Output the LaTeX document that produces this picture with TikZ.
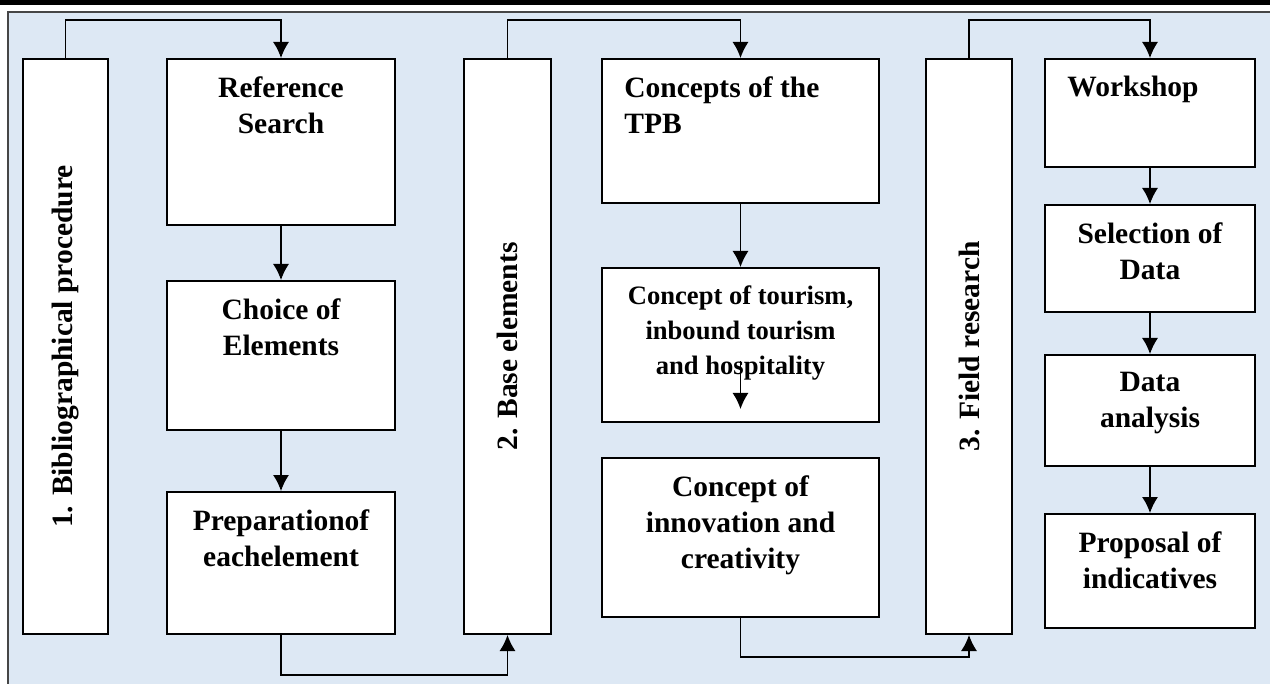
\documentclass[tikz,border=0pt]{standalone}
\usepackage{fontspec}
\setmainfont{Liberation Serif}
\usetikzlibrary{arrows.meta}
\definecolor{bgblue}{RGB}{221,232,244}
\definecolor{rimgray}{RGB}{70,70,70}

\begin{document}
\begin{tikzpicture}[x=0.5pt, y=-0.5pt, font=\bfseries\fontsize{14.75}{18}\selectfont,
    box/.style={draw, fill=white, line width=1pt, inner sep=0pt, anchor=north west},
    txt/.style={align=center, inner sep=0pt},
    hd/.style={label={[txt, anchor=north, yshift=-9pt]north:{#1}}},
    hdl/.style={label={[txt, align=left, anchor=north west, xshift=11.5pt, yshift=-9pt]north west:{#1}}},
    arr/.style={-{Latex[length=8pt,width=8pt]}, line width=0.7pt}]
        \useasboundingbox (0,0) rectangle (1270,684);
        \fill[black] (0,0) rectangle (1270,5);
        \fill[bgblue] (8,12) rectangle (1270,684);
        \draw[rimgray, line width=1.2pt] (8,684) -- (8,12) -- (1270,12);

        % 1. bibliographical procedure
        \node[box, minimum width=42.5pt, minimum height=287.5pt] (bib) at (22,58) {\rotatebox{90}{1. Bibliographical procedure}};
        \node[box, minimum width=114pt, minimum height=83pt, hd={Reference\\Search}] (ref) at (166,58) {};
        \node[box, minimum width=114pt, minimum height=74.5pt, hd={Choice of\\Elements}] (choice) at (166,280) {};
        \node[box, minimum width=114pt, minimum height=71pt, hd={Preparationof\\eachelement}] (prep) at (166,491) {};

        % 2. base elements
        \node[box, minimum width=43.5pt, minimum height=287.5pt] (base) at (463,58) {\rotatebox{90}{2. Base elements}};
        \node[box, minimum width=138.5pt, minimum height=72pt, hdl={Concepts of the\\TPB}] (tpb) at (601,58) {};
        \node[box, minimum width=138.5pt, minimum height=77pt,
              label={[txt, anchor=north, yshift=-9pt, font=\bfseries\fontsize{13.3}{17.5}\selectfont]north:{Concept of tourism,\\inbound tourism\\and hospitality}}] (tour) at (601,267) {};
        \node[box, minimum width=138.5pt, minimum height=79.5pt, hd={Concept of\\innovation and\\creativity}] (innov) at (601,457) {};

        % 3. field research
        \node[box, minimum width=43pt, minimum height=287.5pt] (field) at (925,58) {\rotatebox{90}{3. Field research}};
        \node[box, minimum width=105pt, minimum height=54pt, hdl={Workshop}] (work) at (1044,58) {};
        \node[box, minimum width=105pt, minimum height=53.5pt, hd={Selection of\\Data}] (sel) at (1044,204) {};
        \node[box, minimum width=105pt, minimum height=55.5pt, hd={Data\\analysis}] (ana) at (1044,354) {};
        \node[box, minimum width=105pt, minimum height=57pt, hd={Proposal of\\indicatives}] (prop) at (1044,513) {};

        \draw[arr] (bib.north) -- ++(0,-38) -| (ref.north);
        \draw[arr] (ref) -- (choice);
        \draw[arr] (choice) -- (prep);
        \draw[arr] (prep.south) -- ++(0,40) -| (base.south);
        \draw[arr] (base.north) -- ++(0,-38) -| (tpb.north);
        \draw[arr] (tpb) -- (tour);
        \draw[arr] ([yshift=-8pt]tour.center) -- ([yshift=7pt]tour.south);
        \draw[arr] (innov.south) -- ++(0,39) -| (field.south);
        \draw[arr] (field.north) -- ++(0,-38) -| (work.north);
        \draw[arr] (work) -- (sel);
        \draw[arr] (sel) -- (ana);
        \draw[arr] (ana) -- (prop);
      \end{tikzpicture}
\end{document}
